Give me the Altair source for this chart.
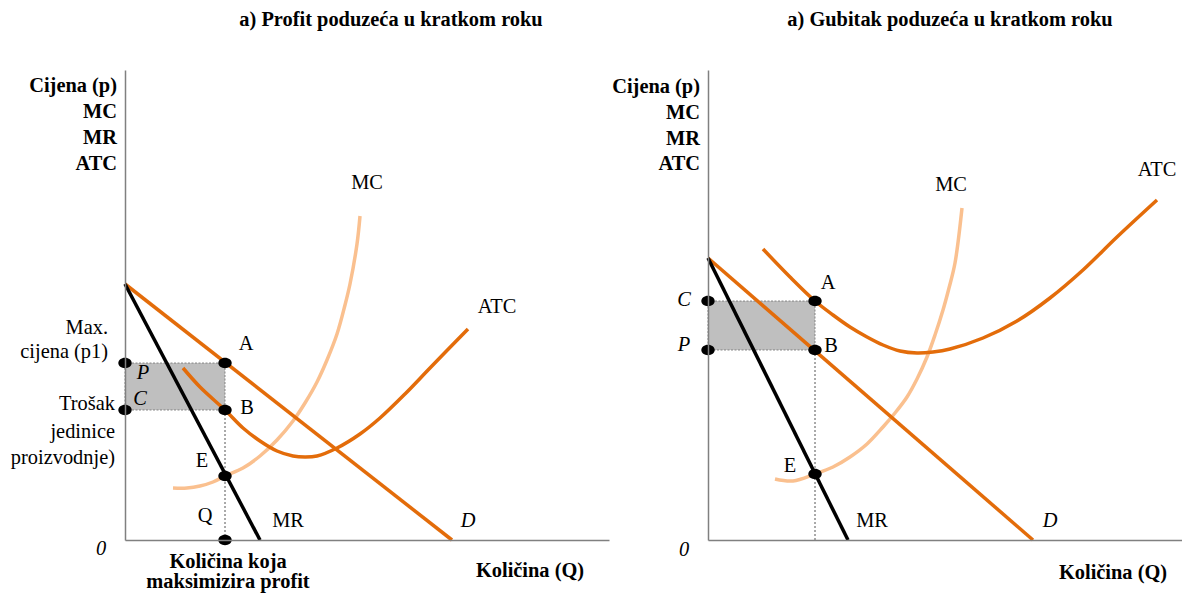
import altair as alt
import pandas as pd

FONT = "Liberation Serif"
ORANGE = "#E36C0A"
PEACH = "#FAC08F"
GREY_FILL = "#BFBFBF"
AXIS_GREY = "#808080"
H = 470
FS = 20.4

# ---------------- Panel 1: profit ----------------
p1_title = "a) Profit poduzeća u kratkom roku"
p1_width = 484
p1_D_q = [0, 327]
p1_D_p = [256, 0]
p1_MR_q = [0, 135]
p1_MR_p = [256, 0]
p1_MC_q = [48, 62, 75, 88, 100, 118, 135, 152, 168, 180, 192, 202, 212, 220, 225, 232, 235]
p1_MC_p = [52, 52, 54, 58, 64, 72, 84, 100, 119, 137, 158, 180, 206, 235, 256, 296, 324]
p1_ATC_q = [58, 75, 100, 118, 135, 152, 168, 180, 192, 212, 235, 255, 280, 305, 343]
p1_ATC_p = [172, 153, 130, 112, 99, 89, 84, 83, 84, 92, 106, 122, 146, 172, 211]
p1_Q, p1_P, p1_C, p1_E = 100, 177, 130, 64
p1_dots_q = [0, 0, p1_Q, p1_Q, p1_Q, p1_Q]
p1_dots_p = [p1_P, p1_C, p1_P, p1_C, p1_E, 0]

p1_ylab_text = ["Cijena (p)", "MC", "MR", "ATC"]
p1_ylab_q = [-8, -8, -8, -8]
p1_ylab_p = [454, 428, 402, 376]
p1_side_text = ["Max.", "cijena (p1)", "Trošak", "jedinice", "proizvodnje)"]
p1_side_q = [-17, -17, -10, -10, -10]
p1_side_p = [212, 188, 136, 108, 82]
p1_ital_text = ["P", "C", "0", "D"]
p1_ital_q = [18, 15, -24, 343]
p1_ital_p = [167, 141, -9, 19]
p1_lab_text = ["A", "B", "E", "Q", "MR", "MC", "ATC"]
p1_lab_q = [121, 122, 77, 80, 163, 242, 372]
p1_lab_p = [196, 132, 79, 24, 19, 357, 233]
p1_bold_text = [p1_title, "Količina koja", "maksimizira profit", "Količina (Q)"]
p1_bold_q = [266, 103, 103, 405]
p1_bold_p = [520, -22, -42, -31]

# ---------------- Panel 2: loss ----------------
p2_title = "a) Gubitak poduzeća u kratkom roku"
p2_width = 474
p2_D_q = [0, 325]
p2_D_p = [282, 0]
p2_MR_q = [0, 140]
p2_MR_p = [282, 0]
p2_MC_q = [67, 85, 107, 125, 142, 159, 175, 187, 199, 209, 219, 227, 235, 241, 247, 254]
p2_MC_p = [61, 59, 66, 73, 83, 96, 113, 127, 143, 161, 183, 205, 230, 252, 277, 332]
p2_ATC_q = [55, 82, 107, 125, 142, 159, 175, 192, 209, 225, 242, 275, 309, 342, 375, 409, 449]
p2_ATC_p = [291, 263, 239, 225, 213, 203, 195, 189, 187, 188, 191, 202, 219, 242, 270, 303, 340]
p2_Q, p2_P, p2_C, p2_E = 107, 190, 239, 66
p2_dots_q = [0, 0, p2_Q, p2_Q, p2_Q]
p2_dots_p = [p2_C, p2_P, p2_C, p2_P, p2_E]

p2_ylab_text = ["Cijena (p)", "MC", "MR", "ATC"]
p2_ylab_q = [-8, -8, -8, -8]
p2_ylab_p = [453, 427, 401, 376]
p2_ital_text = ["C", "P", "0", "D"]
p2_ital_q = [-24, -24, -24, 342]
p2_ital_p = [240, 195, -10, 19]
p2_lab_text = ["A", "B", "E", "MR", "MC", "ATC"]
p2_lab_q = [120, 123, 82, 164, 243, 449]
p2_lab_p = [257, 194, 74, 19, 355, 370]
p2_bold_text = [p2_title, "Količina (Q)"]
p2_bold_q = [242, 405]
p2_bold_p = [520, -33]

ELLIPSE = "M-1,0A1,0.77,0,1,0,1,0A1,0.77,0,1,0,-1,0Z"

X_AXIS = alt.Axis(domain=True, ticks=False, labels=False, grid=False, title=None,
                  domainColor=AXIS_GREY, domainWidth=1.5, zindex=1)
Y_AXIS = alt.Axis(domain=True, ticks=False, labels=False, grid=False, title=None,
                  domainColor=AXIS_GREY, domainWidth=1.5, zindex=1)


def xy(W):
    return dict(
        x=alt.X("q:Q", scale=alt.Scale(domain=[0, W], nice=False, zero=False), axis=X_AXIS),
        y=alt.Y("p:Q", scale=alt.Scale(domain=[0, H], nice=False, zero=False), axis=Y_AXIS),
    )


def line(qs, ps, color, W, width=3.5, interp="catmull-rom"):
    df = pd.DataFrame({"q": qs, "p": ps})
    return alt.Chart(df).mark_line(color=color, strokeWidth=width, interpolate=interp).encode(**xy(W))


def texts(txt, qs, ps, W, align="center", weight="normal", style="normal"):
    df = pd.DataFrame({"q": qs, "p": ps, "t": txt})
    return alt.Chart(df).mark_text(font=FONT, fontSize=FS, align=align, baseline="middle",
                                   fontWeight=weight, fontStyle=style, color="black").encode(
        text="t:N", **xy(W))


def panel(W, D_q, D_p, MR_q, MR_p, MC_q, MC_p, ATC_q, ATC_p, Q, P, C, dots_q, dots_p,
          text_layers, anchor=False):
    lo, hi = min(P, C), max(P, C)
    rect_df = pd.DataFrame({"q": [0], "q2": [Q], "p": [lo], "p2": [hi]})
    rect = alt.Chart(rect_df).mark_rect(fill=GREY_FILL, stroke="#6f6f6f", strokeWidth=0.8,
                                        strokeDash=[2, 1.5]).encode(
        x2="q2:Q", y2="p2:Q", **xy(W))
    drop_df = pd.DataFrame({"q": [Q], "p": [0], "p2": [lo]})
    drop = alt.Chart(drop_df).mark_rule(color="#555555", strokeWidth=1, strokeDash=[2, 2]).encode(
        y2="p2:Q", **xy(W))
    dots_df = pd.DataFrame({"q": dots_q, "p": dots_p})
    dots = alt.Chart(dots_df).mark_point(shape=ELLIPSE, filled=True, color="black", size=180,
                                         opacity=1).encode(**xy(W))
    layers = [rect, drop,
              line(MC_q, MC_p, PEACH, W),
              line(ATC_q, ATC_p, ORANGE, W),
              line(D_q, D_p, ORANGE, W, interp="linear"),
              line(MR_q, MR_p, "black", W, interp="linear"),
              dots] + text_layers
    if anchor:
        # invisible layout frame pinning the drawing's top-left corner
        frame_df = pd.DataFrame({"q": [-117], "q2": [-116], "p": [531], "p2": [530]})
        layers.append(alt.Chart(frame_df).mark_rect(opacity=0).encode(
            x2="q2:Q", y2="p2:Q", **xy(W)))
    return alt.layer(*layers).properties(width=W, height=H)


left = panel(
    p1_width, p1_D_q, p1_D_p, p1_MR_q, p1_MR_p, p1_MC_q, p1_MC_p, p1_ATC_q, p1_ATC_p,
    p1_Q, p1_P, p1_C, p1_dots_q, p1_dots_p,
    [
        texts(p1_ylab_text, p1_ylab_q, p1_ylab_p, p1_width, align="right", weight="bold"),
        texts(p1_side_text, p1_side_q, p1_side_p, p1_width, align="right"),
        texts(p1_ital_text, p1_ital_q, p1_ital_p, p1_width, style="italic"),
        texts(p1_lab_text, p1_lab_q, p1_lab_p, p1_width),
        texts(p1_bold_text, p1_bold_q, p1_bold_p, p1_width, weight="bold"),
    ],
    anchor=True,
)

right = panel(
    p2_width, p2_D_q, p2_D_p, p2_MR_q, p2_MR_p, p2_MC_q, p2_MC_p, p2_ATC_q, p2_ATC_p,
    p2_Q, p2_P, p2_C, p2_dots_q, p2_dots_p,
    [
        texts(p2_ylab_text, p2_ylab_q, p2_ylab_p, p2_width, align="right", weight="bold"),
        texts(p2_ital_text, p2_ital_q, p2_ital_p, p2_width, style="italic"),
        texts(p2_lab_text, p2_lab_q, p2_lab_p, p2_width),
        texts(p2_bold_text, p2_bold_q, p2_bold_p, p2_width, weight="bold"),
    ],
)

chart = alt.hconcat(left, right, spacing=99, bounds="flush").properties(
    padding=0, background="white"
).configure_view(stroke=None)

chart.save("out.html", embed_options={"renderer": "svg", "actions": False})
